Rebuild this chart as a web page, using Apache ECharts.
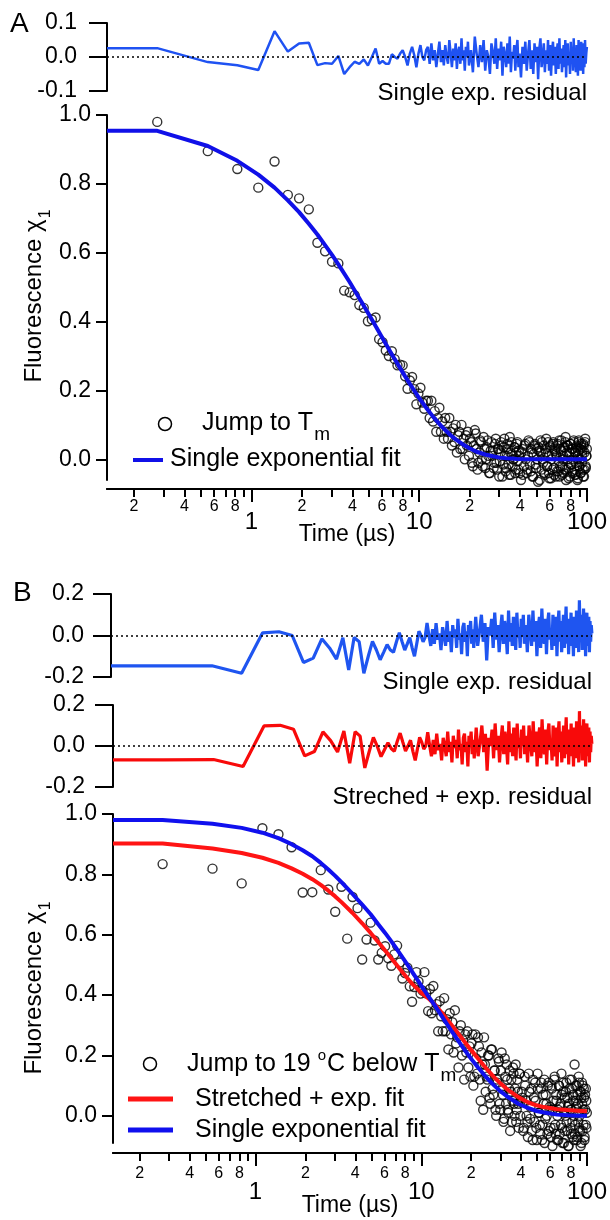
<!DOCTYPE html>
<html><head><meta charset="utf-8">
<script src="https://cdn.jsdelivr.net/npm/echarts@6/dist/echarts.min.js"></script>
<style>html,body{margin:0;padding:0;background:#fff}#c{width:610px;height:1220px}</style>
</head><body><div id="c"></div>
<script>
// ---------- data (time in microseconds) ----------
const time = [0.138,
0.275,0.55,0.825,1.1,1.375,1.65,1.925,2.2,2.475,2.75,3.025,3.3,3.575,3.85,4.125,4.4,4.675,4.95,5.225,5.5,5.775,6.05,6.325,6.6,6.875,7.15,7.425,7.7,7.975,8.25,8.525,8.8,9.075,9.35,9.625,9.9,10.175,10.45,10.725,11,
11.275,11.55,11.825,12.1,12.375,12.65,12.925,13.2,13.475,13.75,14.025,14.3,14.575,14.85,15.125,15.4,15.675,15.95,16.225,16.5,16.775,17.05,17.325,17.6,17.875,18.15,18.425,18.7,18.975,19.25,19.525,19.8,
20.35,20.9,21.45,22,22.55,23.1,23.65,24.2,24.75,25.3,25.85,26.4,26.95,27.5,28.05,28.6,29.15,29.7,30.25,30.8,31.35,31.9,32.45,33,33.55,34.1,34.65,35.2,35.75,36.3,36.85,37.4,37.95,38.5,39.05,39.6,
40.43,41.25,42.08,42.9,43.73,44.55,45.38,46.2,47.03,47.85,48.68,49.5,50.33,51.15,51.98,52.8,53.63,54.45,55.28,56.1,56.93,57.75,58.58,59.4,60.23,61.05,61.88,62.7,63.53,64.35,65.18,66,66.83,67.65,68.48,69.3,70.13,70.95,71.78,72.6,73.43,74.25,75.08,75.9,76.73,77.55,78.38,79.2,80.03,80.85,81.68,82.5,83.33,84.15,84.98,85.8,86.63,87.45,88.28,89.1,89.93,90.75,91.58,92.4,93.23,94.05,94.88,95.7,96.53,97.35,98.18,99,99.83];
// extra sample times shown only as scatter points (dense tail)
const timeExtra = [20.08,20.63,21.18,21.73,22.28,22.83,23.38,23.93,24.48,25.03,25.58,26.13,26.68,27.23,27.78,28.33,28.88,29.43,29.98,30.53,31.08,31.63,32.18,32.73,33.28,33.83,34.38,34.93,35.48,36.03,36.58,37.13,37.68,38.23,38.78,39.33,39.88,
40.7,41.53,42.35,43.18,44,44.83,45.65,46.48,47.3,48.13,48.95,49.78,50.6,51.43,52.25,53.08,53.9,54.73,55.55,56.38,57.2,58.03,58.85,59.68,60.5,61.33,62.15,62.98,63.8,64.63,65.45,66.28,67.1,67.93,68.75,69.58,70.4,71.23,72.05,72.88,73.7,74.53,75.35,76.18,77,77.83,78.65,79.48,80.3,81.13,81.95,82.78,83.6,84.43,85.25,86.08,86.9,87.73,88.55,89.38,90.2,91.03,91.85,92.68,93.5,94.33,95.15,95.98,96.8,97.63,98.45,99.28];

// Panel A
const residAHead = [.026,
.026,-.015,-.024,-.038,.076,.016,.04,.042,-.024,-.018,-.02,.003,-.05,-.03,-.014,-.02,-.007,-.025,0,.025,-.02,-.012,-.02,-.02,.008,0,-.005,.01,.02,0,-.025,.01,.03,.005,-.03,.01,.035,0,-.01,.02];
const residAMid = [.03,-.02,.04,-.01,.02,-.03,.01,.045,-.015,.02,-.025,.035,0,-.02,.05,.01,-.03,.025,-.01,.04,-.035,.015,.03,-.02,.055,-.01,.02,-.04,.03,0,.045,-.025,
.02,-.045,.06,.01,-.03,.035,-.015,.05,-.04,.02,0,-.05,.04,.015,-.02,.055,-.035,.025,-.01,.045,-.055,.03,.005,-.03,.04,-.02,.06,-.045,.015,-.005,.035,-.04,.02,.05,-.03,.01];
const scatterAHead = [null,
.98,.895,.843,.789,.865,.768,.758,.726,.629,.604,.574,.569,.49,.485,.477,.448,.44,.401,.406,.412,.349,.34,.316,.30,.314,.291,.273,.275,.273,.241,.205,.229,.239,.204,.16,.191,.208,.165,.147,.17];
const scatterAMid = [.17,.12,.17,.11,.14,.08,.12,.15,.08,.11,.06,.12,.08,.06,.12,.08,.04,.09,.05,.10,.02,.07,.08,.03,.10,.03,.06,0,.07,.04,.08,.01,
.05,-.02,.085,.03,-.01,.055,0,.065,-.025,.035,.01,-.04,.05,.025,-.01,.06,-.03,.03,-.005,.05,-.05,.035,.01,-.025,.045,-.015,.065,-.045,.015,0,.035,-.04,.02,.05,-.03,.01];
const tailA = [-.06,.03,-.02,.045,-.04,.01,.05,-.035,.02,-.05,.04,-.015,.03,-.065,.025,.055,-.03,0,.04,-.045,.02,-.02,.05,-.04,.035,-.055,.015,.045,-.025,.03,-.05,.01,.04,-.035,.055,-.02,.025,-.045,0,.035,-.03,.05,-.06,.02,.04,-.025,.01,-.05,.045,-.015,.03,-.04,.055,-.03,.02,-.045,.035,0,-.055,.05,-.02,.03,-.04,.045,-.01,.025,-.05,.04,-.03,.05,-.02,.01,.03];
const scatterAExtra = [.06,-.01,.04,.075,-.03,.02,.05,-.02,.03,0,.055,-.04,.025,.01,-.025,.045,-.01,.03,-.05,.02,.04,-.015,.06,-.035,.01,.03,-.045,.02,.05,-.02,0,.035,-.03,.045,-.005,.025,-.04,
.02,-.045,.04,0,-.03,.055,-.015,.03,-.05,.015,.045,-.025,0,.035,-.06,.02,.05,-.01,-.04,.03,.06,-.02,.01,-.055,.04,0,-.03,.05,-.045,.025,.015,-.035,.045,-.005,-.05,.03,.055,-.02,.01,-.04,.035,.065,-.03,0,.04,-.055,.02,.045,-.015,-.035,.03,0,.05,-.045,.02,-.01,.04,-.06,.025,.055,-.02,0,-.04,.035,.015,-.03,.045,-.05,.02,.06,-.025,.01];

// Panel B
const residB1Head = [-.146,
-.146,-.146,-.182,.013,.018,0,-.13,-.109,-.016,-.06,-.114,-.011,-.166,-.01,-.03,-.182,-.1,-.028,-.07,-.117,-.08,-.044,-.07,-.081,-.03,.013,-.03,-.07,-.04,-.01,-.06,-.1,-.04,.02,0,-.03,-.01,.06,0,-.05];
const residB2Head = [-.068,
-.068,-.066,-.10,.098,.101,.082,-.048,-.027,.069,.026,-.029,.073,-.084,.07,.048,-.107,-.027,.042,-.002,-.052,-.017,.016,-.012,-.026,.023,.063,.018,-.025,.001,.028,-.026,-.07,-.014,.042,.019,-.015,.001,.067,.004,-.05];
const residBTail = [.03,-.04,.06,-.02,.01,-.07,.04,0,-.05,.07,-.03,.02,-.08,.05,-.01,.03,-.06,.08,-.02,.01,-.09,.04,.06,-.03,.02,-.1,.05,0,.07,-.04,.03,-.06,
.09,-.05,.02,.1,-.03,.06,-.12,.04,0,.08,-.06,.11,-.02,.05,-.08,.03,.1,-.04,.07,.01,-.09,.12,-.03,.06,-.05,.09,.02,-.07,.11,-.01,.04,-.06,.08,0,.1,-.04,
.05,-.08,.1,.02,-.05,.12,-.03,.07,-.1,.04,.09,-.06,.13,0,-.04,.08,-.09,.06,.11,-.02,.03,-.07,.1,.01,-.05,.09,-.1,.05,.12,-.03,.07,-.08,.02,.1,-.06,.04,.14,-.04,.08,-.09,.06,0,.11,-.05,.03,-.1,.09,.02,-.06,.12,-.02,.07,-.08,.17,-.03,.05,.1,-.07,.04,.13,-.04,.08,-.1,.06,.11,-.05,.02,.09,-.08,.07,-.03,.05,.01];
const scatterBHead = [null,
.834,.819,.77,.953,.933,.89,.74,.741,.814,.75,.676,.759,.587,.725,.688,.518,.584,.64,.581,.518,.54,.562,.522,.497,.535,.564,.508,.455,.473,.491,.429,.378,.427,.476,.445,.405,.415,.476,.406,.347];
const scatterBTail = [.42,.34,.43,.35,.37,.28,.38,.33,.28,.39,.28,.32,.22,.34,.27,.31,.21,.35,.24,.26,.16,.28,.30,.20,.25,.12,.27,.21,.28,.16,.23,.13,
.27,.13,.19,.26,.12,.21,.02,.17,.13,.20,.06,.22,.09,.15,.02,.12,.19,.04,.15,.09,-.02,.19,.04,.12,.01,.15,.08,-.02,.16,.04,.09,-.02,.12,.04,.14,0,
.08,-.05,.13,.05,-.02,.14,-.01,.09,-.08,.06,.11,-.04,.14,.01,-.03,.09,-.08,.07,.12,-.01,.04,-.06,.11,.02,-.04,.1,-.1,.05,.12,-.03,.07,-.08,.02,.1,-.06,.04,.14,-.04,.08,-.09,.06,0,.11,-.05,.03,-.1,.09,.02,-.06,.12,-.02,.07,-.08,.17,-.03,.05,.1,-.07,.04,.13,-.04,.08,-.1,.06,.11,-.05,.02,.09,-.08,.07,-.03,.05,.01];
const scatterBExtra = [.24,.10,.27,.14,.23,.05,.17,.26,.08,.12,.20,.04,.22,.07,.15,0,.11,.18,.02,.21,.07,-.01,.13,.17,.02,.09,-.05,.12,.05,.14,0,.17,.02,.08,-.04,.14,.05,
.06,-.04,.1,0,-.07,.08,.03,-.05,.12,-.02,.05,-.08,.09,.01,-.06,.11,-.03,.04,-.09,.07,0,.1,-.05,.03,-.07,.09,.02,-.04,.13,-.06,.05,0,-.08,.1,.03,-.03,.07,-.09,.11,.01,-.05,.08,-.02,.06,-.1,.04,.12,-.04,.02,.09,-.07,.05,0,-.06,.1,.03,-.08,.07,-.02,.11,0,-.05,.08,-.09,.04,.1,-.03,.06,-.07,.02,.09,-.04];

// fitted curves
const fitTime = [0.138,0.275,0.55,0.825,1.1,1.375,1.65,1.925,2.2,2.475,2.75,3.025,3.3,3.85,4.4,4.95,5.5,6.05,6.6,7.15,7.7,8.25,8.8,9.9,11,12.1,13.75,15.4,16.5,18.15,19.8,22,24.75,27.5,30.25,33,38.5,44,49.5,55,66,77,88,100];
const fitA = [.954,.954,.910,.867,.827,.789,.752,.718,.684,.653,.622,.594,.566,.515,.468,.426,.387,.352,.320,.291,.265,.241,.219,.181,.150,.124,.093,.070,.058,.044,.033,.022,.014,.009,.005,.003,.001,.0005,.0002,0,0,0,0,0];
const fitBSingle = [.98,.98,.968,.954,.938,.92,.90,.88,.86,.838,.816,.795,.774,.735,.70,.668,.635,.606,.578,.551,.525,.501,.478,.435,.397,.365,.318,.277,.253,.220,.192,.160,.127,.101,.080,.064,.040,.026,.016,.011,.004,.0016,.0006,0];
const fitBStretched = [.902,.902,.886,.871,.855,.838,.82,.802,.784,.765,.746,.727,.708,.672,.638,.606,.576,.548,.522,.498,.476,.456,.438,.41,.39,.368,.332,.298,.277,.247,.221,.19,.156,.128,.106,.088,.062,.045,.035,.029,.022,.019,.017,.015];

// tick labels
const minorTicks = [0.2,0.3,0.4,0.5,0.6,0.7,0.8,0.9,2,3,4,5,6,7,8,9,20,30,40,50,60,70,80,90];
const minorLabels = [0.2,0.4,0.6,0.8,2,4,6,8,20,40,60,80];
const majorTicks = [1,10,100];
const mainYTicks = [0,0.2,0.4,0.6,0.8,1.0];

const residA = [...residAHead, ...residAMid, ...tailA];
const scatterA = [...scatterAHead, ...scatterAMid, ...tailA];
const residB1 = [...residB1Head, ...residBTail];
const residB2 = [...residB2Head, ...residBTail];
const scatterB = [...scatterBHead, ...scatterBTail];
[residA, scatterA, residB1, residB2, scatterB].forEach((a,i)=>{ if(a.length!==time.length) console.error('length mismatch', i, a.length, time.length); });
[scatterAExtra, scatterBExtra].forEach((a,i)=>{ if(a.length!==timeExtra.length) console.error('extra length mismatch', i, a.length, timeExtra.length); });
[fitA, fitBSingle, fitBStretched].forEach((a,i)=>{ if(a.length!==fitTime.length) console.error('fit length mismatch', i, a.length); });

// ---------- chart ----------
const FONT = '"Liberation Sans", Arial, Helvetica, sans-serif';
const XMIN = 0.138, XMAX = 100;
function pairs(xs, ys){ const out=[]; for(let i=0;i<xs.length;i++){ if(ys[i]!=null) out.push([xs[i], ys[i]]); } return out; }
const fmt1 = v => (Math.abs(v) < 1e-9 ? 0 : v).toFixed(1);
const minorFmt = v => { const e = Math.floor(Math.log10(v) + 1e-9); return String(Math.round(v / Math.pow(10, e))); };
const axLine = {show:true, onZero:false, lineStyle:{color:'#000', width:2}};

function hiddenX(grid){ return {type:'log', gridIndex:grid, min:XMIN, max:XMAX, show:false}; }
function minorX(grid, offset, margin){
  return {type:'log', gridIndex:grid, min:XMIN, max:XMAX, position:'bottom', offset:offset,
    axisLine:axLine, splitLine:{show:false}, minorTick:{show:false},
    axisTick:{show:true, inside:false, length:8, lineStyle:{color:'#000', width:2}, customValues:minorTicks},
    axisLabel:{show:true, margin:margin, fontSize:16, color:'#000', fontFamily:FONT, hideOverlap:false, customValues:minorLabels, formatter:minorFmt}};
}
function majorX(grid, offset, margin, gap){
  return {type:'log', gridIndex:grid, min:XMIN, max:XMAX, position:'bottom', offset:offset,
    name:'Time (µs)', nameLocation:'middle', nameGap:gap, nameMoveOverlap:false,
    nameTextStyle:{fontSize:23, color:'#000', fontFamily:FONT},
    axisLine:axLine, splitLine:{show:false}, minorTick:{show:false},
    axisTick:{show:true, inside:false, length:13, lineStyle:{color:'#000', width:2}, customValues:majorTicks},
    axisLabel:{show:true, margin:margin, fontSize:24, color:'#000', fontFamily:FONT, hideOverlap:false, customValues:majorTicks, formatter:v=>String(Math.round(v))}};
}
function residY(grid, lim, margin){
  return {type:'value', gridIndex:grid, min:-lim, max:lim, interval:lim,
    axisLine:axLine, splitLine:{show:false},
    axisTick:{show:true, length:18, lineStyle:{color:'#000', width:2}},
    axisLabel:{margin:margin, fontSize:23, color:'#000', fontFamily:FONT, formatter:fmt1, showMinLabel:true, showMaxLabel:true}};
}
function mainY(grid, min){
  return {type:'value', gridIndex:grid, min:min, max:1,
    axisLine:axLine, splitLine:{show:false},
    axisTick:{show:true, length:11, lineStyle:{color:'#000', width:2}, customValues:mainYTicks},
    axisLabel:{margin:16, fontSize:23, color:'#000', fontFamily:FONT, formatter:fmt1, customValues:mainYTicks, hideOverlap:false}};
}
const zeroLine = {silent:true, symbol:'none', label:{show:false}, animation:false,
  lineStyle:{type:[2,3], color:'#000', width:1.6}, data:[{yAxis:0}]};
const circleStyle = {color:'rgba(0,0,0,0)', borderColor:'#000', borderWidth:1.4};
const rich = (main, sub) => ({
  a:{fontSize:main, fontFamily:FONT, fill:'#000', verticalAlign:'middle'},
  p:{fontSize:15, fontFamily:FONT, fill:'#000', padding:[0,1,16,0], verticalAlign:'middle'},
  s:{fontSize:sub, fontFamily:FONT, fill:'#000', padding:[24,0,0,1], verticalAlign:'middle'}
});

const option = {
  animation:false,
  backgroundColor:'#fff',
  textStyle:{fontFamily:FONT},
  grid:[
    {left:107, top:23, width:480, height:68},
    {left:107, top:115, width:480, height:365},
    {left:111, top:594, width:481, height:83},
    {left:113, top:705, width:479, height:82},
    {left:113, top:814, width:479, height:329}
  ],
  xAxis:[
    hiddenX(0),
    minorX(1, 9, 10),
    majorX(1, 9, 21, 34),
    hiddenX(2),
    hiddenX(3),
    minorX(4, 10, 13),
    majorX(4, 10, 27, 41)
  ],
  yAxis:[
    residY(0, 0.1, 30),
    mainY(1, -0.06),
    residY(2, 0.2, 27),
    residY(3, 0.2, 28),
    mainY(4, -0.09)
  ],
  series:[
    {name:'Single exp. residual A', type:'line', xAxisIndex:0, yAxisIndex:0, data:pairs(time, residA),
      showSymbol:false, symbol:'none', lineStyle:{color:'#1f52f2', width:2.5}, itemStyle:{color:'#1f52f2'}, markLine:zeroLine, z:3},
    {name:'Jump to Tm', type:'scatter', xAxisIndex:1, yAxisIndex:1, data:pairs(time, scatterA).concat(pairs(timeExtra, scatterAExtra)),
      symbol:'circle', symbolSize:9, itemStyle:circleStyle, clip:false, z:2},
    {name:'Single exponential fit A', type:'line', xAxisIndex:1, yAxisIndex:1, data:pairs(fitTime, fitA),
      showSymbol:false, symbol:'none', lineStyle:{color:'#1010e8', width:4}, z:4},
    {name:'Single exp. residual B', type:'line', xAxisIndex:3, yAxisIndex:2, data:pairs(time, residB1),
      showSymbol:false, symbol:'none', lineStyle:{color:'#1f55f0', width:3.2}, markLine:zeroLine, z:3},
    {name:'Streched + exp. residual', type:'line', xAxisIndex:4, yAxisIndex:3, data:pairs(time, residB2),
      showSymbol:false, symbol:'none', lineStyle:{color:'#f80a0a', width:3.2}, markLine:zeroLine, z:3},
    {name:'Jump to 19 °C below Tm', type:'scatter', xAxisIndex:5, yAxisIndex:4, data:pairs(time, scatterB).concat(pairs(timeExtra, scatterBExtra)),
      symbol:'circle', symbolSize:9, itemStyle:circleStyle, clip:false, z:2},
    {name:'Stretched + exp. fit', type:'line', xAxisIndex:5, yAxisIndex:4, data:pairs(fitTime, fitBStretched),
      showSymbol:false, symbol:'none', lineStyle:{color:'#ff1414', width:4}, z:4},
    {name:'Single exponential fit B', type:'line', xAxisIndex:5, yAxisIndex:4, data:pairs(fitTime, fitBSingle),
      showSymbol:false, symbol:'none', lineStyle:{color:'#1010ee', width:4}, z:5}
  ],
  graphic:[
    {type:'text', x:10, y:24, style:{text:'A', font:'28px '+FONT, fill:'#000', textAlign:'left', textVerticalAlign:'middle'}},
    {type:'text', x:13, y:593, style:{text:'B', font:'28px '+FONT, fill:'#000', textAlign:'left', textVerticalAlign:'middle'}},
    {type:'text', x:587, y:93, style:{text:'Single exp. residual', font:'24px '+FONT, fill:'#000', textAlign:'right', textVerticalAlign:'middle'}},
    {type:'text', x:592, y:682, style:{text:'Single exp. residual', font:'24px '+FONT, fill:'#000', textAlign:'right', textVerticalAlign:'middle'}},
    {type:'text', x:592, y:797, style:{text:'Streched + exp. residual', font:'24px '+FONT, fill:'#000', textAlign:'right', textVerticalAlign:'middle'}},
    // y titles
    {type:'text', x:34, y:296, rotation:Math.PI/2, style:{text:'{a|Fluorescence χ}{s|1}', textAlign:'center', textVerticalAlign:'middle', rich:rich(24,16)}},
    {type:'text', x:34, y:988, rotation:Math.PI/2, style:{text:'{a|Fluorescence χ}{s|1}', textAlign:'center', textVerticalAlign:'middle', rich:rich(24,16)}},
    // legend A
    {type:'circle', shape:{cx:165, cy:424, r:6.5}, style:{fill:'none', stroke:'#000', lineWidth:1.5}},
    {type:'text', x:202, y:423, style:{text:'{a|Jump to T}{s|m}', textAlign:'left', textVerticalAlign:'middle', rich:rich(25,19)}},
    {type:'line', shape:{x1:133, y1:460, x2:163, y2:460}, style:{stroke:'#1010e8', lineWidth:4}},
    {type:'text', x:170, y:459, style:{text:'Single exponential fit', font:'25px '+FONT, fill:'#000', textAlign:'left', textVerticalAlign:'middle'}},
    // legend B
    {type:'circle', shape:{cx:150, cy:1064, r:6.5}, style:{fill:'none', stroke:'#000', lineWidth:1.5}},
    {type:'text', x:187, y:1064, style:{text:'{a|Jump to 19 }{p|o}{a|C below T}{s|m}', textAlign:'left', textVerticalAlign:'middle', rich:rich(25,19)}},
    {type:'line', shape:{x1:128, y1:1099, x2:173, y2:1099}, style:{stroke:'#ff1414', lineWidth:5}},
    {type:'text', x:195, y:1099, style:{text:'Stretched + exp. fit', font:'25px '+FONT, fill:'#000', textAlign:'left', textVerticalAlign:'middle'}},
    {type:'line', shape:{x1:128, y1:1130, x2:173, y2:1130}, style:{stroke:'#1010ee', lineWidth:5}},
    {type:'text', x:195, y:1130, style:{text:'Single exponential fit', font:'25px '+FONT, fill:'#000', textAlign:'left', textVerticalAlign:'middle'}}
  ]
};
const chart = echarts.init(document.getElementById('c'), null, {renderer:'canvas'});
chart.setOption(option);
</script>
</body></html>
